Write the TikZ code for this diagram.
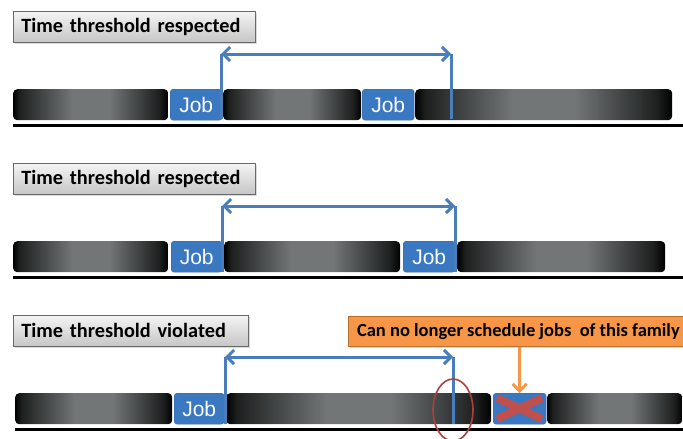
\documentclass[tikz,border=0pt]{standalone}
\usepackage{fontspec}
\setmainfont{Carlito}
\newfontfamily\jobfont{Liberation Sans}
\usetikzlibrary{arrows.meta,shadows}
\definecolor{jobblue}{HTML}{3B78C2}
\definecolor{arrblue}{HTML}{4A7EBB}
\definecolor{bardark}{HTML}{1E2020}
\definecolor{barmid}{HTML}{727676}
\definecolor{lbltop}{HTML}{F4F4F4}
\definecolor{lblbot}{HTML}{C6C6C6}
\definecolor{lblline}{HTML}{6A6A6A}
\definecolor{orangef}{HTML}{F79646}
\definecolor{oranged}{HTML}{B9702F}
\definecolor{redx}{HTML}{C0504D}
\definecolor{redring}{HTML}{A8403D}
\pgfdeclarehorizontalshading{barshade}{100bp}{color(0bp)=(black); color(25bp)=(black); color(27bp)=(bardark); color(44bp)=(barmid); color(56bp)=(barmid); color(72bp)=(bardark); color(75bp)=(black); color(100bp)=(black)}
\begin{document}
\begin{tikzpicture}[x=1pt,y=-1pt,
  bar/.style={shade, shading=barshade, rounded corners=4pt, inner sep=0pt, anchor=north west, minimum height=31pt},
  jobbox/.style={fill=jobblue, draw=jobblue!85!black, line width=0.4pt, rounded corners=3pt, inner sep=0pt, anchor=north west, minimum height=31pt, text=white, font=\jobfont\fontsize{21}{21}\selectfont},
  lblbox/.style={top color=lbltop, bottom color=lblbot, draw=lblline, line width=0.8pt, drop shadow={shadow xshift=1.5pt, shadow yshift=-1.5pt, opacity=0.3}, anchor=north west, minimum height=31pt, inner xsep=8pt, inner ysep=0pt, align=left, font=\bfseries\fontsize{20.3}{20.3}\selectfont},
  notebox/.style={fill=orangef, draw=oranged, line width=0.8pt, drop shadow={shadow xshift=1.5pt, shadow yshift=-1.5pt, opacity=0.3}, anchor=north west, minimum height=30pt, inner sep=0pt, font=\bfseries\fontsize{18.5}{18.5}\selectfont},
  ground/.style={line width=3pt, black},
  tick/.style={arrblue, line width=3pt},
  span/.style={arrblue, line width=3pt, {Straight Barb[length=7pt,width=14pt]}-{Straight Barb[length=7pt,width=14pt]}},
  pointer/.style={orangef, line width=3pt, -{Straight Barb[length=7pt,width=14pt]}},
  ring/.style={redring, line width=1.6pt},
  cross/.style={redx, line width=8pt}
]
\useasboundingbox (0,0) rectangle (683,439);
\clip (0,0) rectangle (683,439);

% ---------- panel 1
\node[lblbox, text width=226pt] (L1) at (13,11) {Time threshold respected};
\node[bar, minimum width=155pt] (b11) at (13,89) {};
\node[jobbox, minimum width=52pt] (j11) at (170,89) {Job};
\node[bar, minimum width=138pt] (b12) at (223,89) {};
\node[jobbox, minimum width=52pt] (j12) at (362,89) {Job};
\node[bar, minimum width=257pt] (b13) at (415,89) {};
\coordinate (g1a) at (13,125);
\coordinate (g1b) at (683,125);
\draw[ground] (g1a) -- (g1b);
\coordinate (p1a) at (221,119);
\coordinate (p1b) at (221,54);
\coordinate (p1c) at (451,54);
\coordinate (p1d) at (451,119);
\draw[tick] (p1a) -- (p1b);
\draw[tick] (p1d) -- (p1c);
\draw[span] (p1b) -- (p1c);

% ---------- panel 2
\node[lblbox, text width=226pt] (L2) at (13,163) {Time threshold respected};
\node[bar, minimum width=155pt] (b21) at (13,241) {};
\node[jobbox, minimum width=51pt] (j21) at (171,241) {Job};
\node[bar, minimum width=176pt] (b22) at (224,241) {};
\node[jobbox, minimum width=52pt] (j22) at (403,241) {Job};
\node[bar, minimum width=208pt] (b23) at (457,241) {};
\coordinate (g2a) at (13,277);
\coordinate (g2b) at (683,277);
\draw[ground] (g2a) -- (g2b);
\coordinate (p2a) at (222,272);
\coordinate (p2b) at (222,206);
\coordinate (p2c) at (455,206);
\coordinate (p2d) at (455,272);
\draw[tick] (p2a) -- (p2b);
\draw[tick] (p2d) -- (p2c);
\draw[span] (p2b) -- (p2c);

% ---------- panel 3
\node[lblbox, text width=219pt] (L3) at (13,315) {Time threshold violated};
\node[notebox, minimum width=340pt] (note) at (348,316) {Can no longer schedule jobs\ \ of this family};
\node[bar, minimum width=157pt] (b31) at (15,393) {};
\node[jobbox, minimum width=50pt] (j31) at (174,393) {Job};
\node[bar, minimum width=265pt] (b32) at (226,393) {};
\node[jobbox, minimum width=53pt] (xb) at (493,393) {};
\node[bar, minimum width=135pt] (b33) at (547,393) {};
\coordinate (g3a) at (15,429);
\coordinate (g3b) at (683,429);
\draw[ground] (g3a) -- (g3b);
\coordinate (p3a) at (225,424);
\coordinate (p3b) at (225,357);
\coordinate (p3c) at (453,357);
\coordinate (p3d) at (453,424);
\draw[tick] (p3a) -- (p3b);
\draw[tick] (p3d) -- (p3c);
\draw[span] (p3b) -- (p3c);
\draw[cross] (497,398) -- (542,419);
\draw[cross] (497,419) -- (542,398);
\coordinate (q) at (xb.north |- note.south);
\draw[pointer] (q) -- (xb.north);
\draw[ring] (453,410) ellipse [x radius=20, y radius=31];
\end{tikzpicture}
\end{document}
